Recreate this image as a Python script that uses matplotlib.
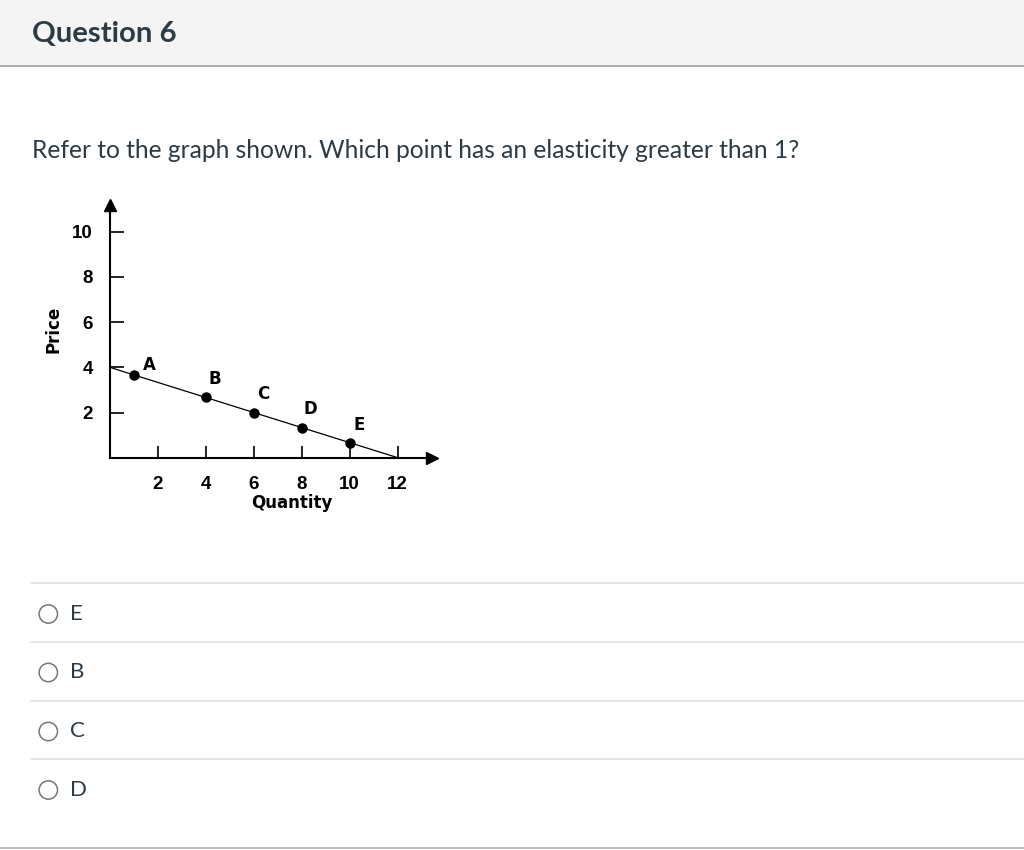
import numpy as np
import matplotlib
matplotlib.use("Agg")
import matplotlib.pyplot as plt
from matplotlib.patches import Rectangle, Circle

# demand curve data
line_q = [0, 12]
line_p = [4, 0]
point_names = ["A", "B", "C", "D", "E"]
point_q = [1, 4, 6, 8, 10]
point_p = [3.67, 2.67, 2.0, 1.33, 0.67]
label_offsets = [(11.3, 6.7), (6.5, 13.2), (7, 13.2), (6.5, 13.7), (6.5, 12.5)]  # points
x_ticks = [2, 4, 6, 8, 10, 12]
y_ticks = [2, 4, 6, 8, 10]

question_title = "Question 6"
question_text = "Refer to the graph shown. Which point has an elasticity greater than 1?"
answers = ["E", "B", "C", "D"]

W, H = 1024, 850
fig = plt.figure(figsize=(W / 100, H / 100), dpi=100)
fig.patch.set_facecolor("white")

# page layer in pixel coordinates
page = fig.add_axes([0, 0, 1, 1])
page.set_xlim(0, W)
page.set_ylim(H, 0)
page.axis("off")

ink = "#2d3b45"
page.add_patch(Rectangle((0, 0), W, 65, color="#f4f4f4", lw=0))
page.plot([0, W], [65.5, 65.5], color="#a8a8a8", lw=1.3)
page.text(32, 41.5, question_title, family="Lato", weight="bold",
          fontsize=21.2, color=ink, va="baseline")
page.text(32, 158, question_text, family="Lato", fontsize=17.7,
          color=ink, va="baseline")

row_lines = [583, 641.5, 700.5, 759]
for i, ans in enumerate(answers):
    y = row_lines[i]
    page.plot([31, W], [y, y], color="#e2e2e2", lw=1.2)
    cy = y + 31
    page.add_patch(Circle((48.3, cy), 9.2, fill=False, ec="#777777", lw=1.1))
    page.text(70, cy + 5.5, ans, family="Lato", fontsize=16, color=ink,
              va="baseline")
page.plot([0, W], [847.5, 847.5], color="#b5b5b5", lw=1.3)

# graph
x0, y0 = 109.7, 457.7
sx, sy = 24.0, 22.6
xmax, ymax = 13.43, 11.16
ax = fig.add_axes([x0 / W, (H - y0) / H, sx * xmax / W, sy * ymax / H])
ax.patch.set_alpha(0)
ax.set_xlim(0, xmax)
ax.set_ylim(0, ymax)
for s in ["top", "right"]:
    ax.spines[s].set_visible(False)
for s in ["left", "bottom"]:
    ax.spines[s].set_linewidth(1.5)

ax.plot(line_q, line_p, color="black", lw=0.9, clip_on=False)
ax.plot(point_q, point_p, "o", color="black", ms=6.5, clip_on=False)
for name, q, p, off in zip(point_names, point_q, point_p, label_offsets):
    ax.annotate(name, (q, p), xytext=off, textcoords="offset points",
                family="DejaVu Sans", weight="bold", fontsize=12,
                ha="center", va="center")

# arrow heads
ax.plot([0], [ymax], "^", color="black", ms=9, clip_on=False)
ax.plot([xmax], [0], ">", color="black", ms=9, clip_on=False)

ax.set_xticks(x_ticks)
ax.set_yticks(y_ticks)
ax.tick_params(axis="y", direction="in", length=10, width=1.2, pad=12)
ax.tick_params(axis="x", direction="in", length=8.5, width=1.2, pad=13)
for lab in ax.get_xticklabels() + ax.get_yticklabels():
    lab.set_family("Liberation Sans")
    lab.set_weight("bold")
    lab.set_fontsize(13.5)

page.text(292, 503, "Quantity", family="DejaVu Sans", weight="bold",
          fontsize=12, ha="center", va="center")
page.text(53, 329, "Price", family="DejaVu Sans", weight="bold",
          fontsize=12, ha="center", va="center", rotation=90)

fig.savefig("out.png", dpi=100)
